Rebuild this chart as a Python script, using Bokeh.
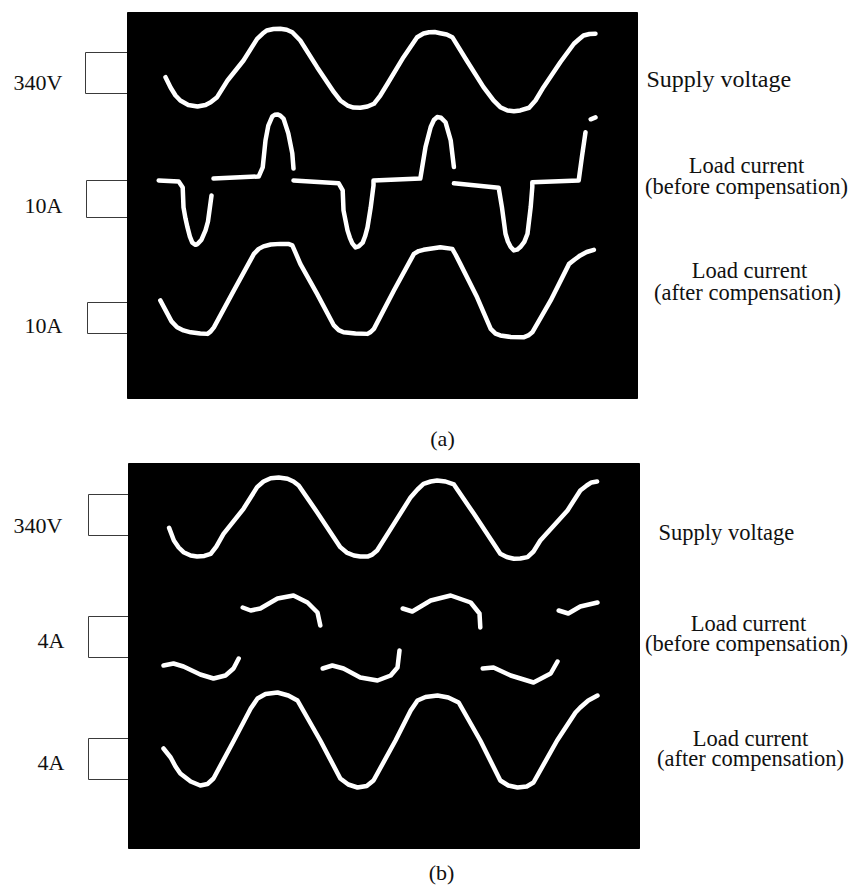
import numpy as np
from bokeh.plotting import figure
from bokeh.models import Range1d
from bokeh.core.properties import value
from bokeh.embed import file_html
from bokeh.resources import INLINE

nan = float("nan")

# ---------------- data ----------------
# time in ms, supply in V, currents in A
a_supply_t = [4.75, 5.4, 6.0, 6.6, 7.6, 8.75, 9.75, 10.4, 11.2, 12.5, 14.5, 16.2, 16.9, 17.4, 18.25, 19.1,
              19.9, 20.6, 21.6, 23.7, 25.8, 26.6, 27.5, 28.25, 29.1, 30.0, 30.8, 31.6, 32.5, 34.5, 36.2,
              37.0, 37.7, 38.4, 39.1, 39.9, 40.6, 42.4, 44.5, 45.75, 46.6, 47.5, 48.3, 49.1, 50.2, 51.0,
              52.0, 54.1, 55.8, 56.4, 57.0, 57.75, 58.5]
a_supply_v = [-78, -168, -234, -276, -314, -327, -314, -291, -248, -106, 64, 248, 293, 319, 332, 333,
              325, 304, 234, 7, -206, -276, -319, -336, -338, -327, -304, -234, -134, 92, 262,
              293, 304, 306, 296, 285, 262, 64, -163, -276, -333, -361, -367, -361, -338, -276,
              -163, 49, 206, 242, 276, 289, 291]

a_before_t = [3.9, 6.4, 6.9, 7.0, 7.25, 7.5, 7.8, 8.1, 8.5, 8.75, 9.25, 9.75, 10.06, 10.25, 10.5, nan,
              10.75, 16.4, 16.9, 17.25, 17.6, 18.1, 18.4, 18.75, 19.1, 19.5, 20.1, 20.6, 20.75, nan,
              20.75, 26.4, 26.9, 27.0, 27.5, 27.8, 28.1, 28.5, 28.9, 29.4, 29.7, 30.0, 30.4, 30.75,
              30.75, 36.6, 37.25, 37.9, 38.3, 38.7, 39.2, 39.75, 40.4, 40.8, nan,
              40.8, 46.4, 46.8, 47.25, 47.55, 47.9, 48.3, 48.7, 49.1, 49.6, 50.0, 50.4, 50.6,
              50.6, 56.4, 56.8, 57.25, nan,
              57.9, 58.5]
a_before_i = [0.3, 0, -1.6, -7.0, -10.0, -12.4, -14.9, -16.5, -17.1, -16.9, -15.7, -13.2, -10.8, -7.8, -3.8, nan,
              0.8, 1.35, 3.8, 11.1, 15.1, 17.6, 18.0, 18.1, 17.8, 17.0, 13.0, 7.6, 3.5, nan,
              0.3, -0.5, -2.4, -7.8, -13.2, -15.2, -16.7, -17.8, -17.5, -16.5, -14.8, -12.4, -7.0, -1.1,
              0.3, 0.8, 9.3, 14.7, 16.6, 17.4, 17.2, 16.0, 11.1, 3.9, nan,
              -0.5, -1.7, -6.9, -14.1, -16.2, -17.7, -18.6, -18.4, -17.7, -16.3, -14.1, -6.9, -1.5,
              -0.2, 0.3, 6.6, 13.3, nan,
              16.8, 17.3]

a_after_t = [4.1, 5.0, 5.5, 6.2, 7.0, 7.9, 9.1, 10.0, 10.4, 10.8, 13.3, 15.8, 16.4, 17.0, 17.9, 19.1,
             20.1, 20.6, 21.0, 21.6, 23.7, 25.8, 26.4, 27.0, 28.5, 30.0, 30.4, 30.8, 33.3, 35.8, 36.4,
             37.0, 39.1, 40.6, 41.0, 41.6, 43.7, 45.4, 46.0, 46.6, 47.9, 49.5, 50.1, 50.6, 52.9, 55.2,
             55.9, 56.6, 57.4, 58.3]
a_after_i = [-3.5, -7.8, -10.2, -12.1, -13.1, -13.7, -14.1, -14.2, -13.4, -12.1, -0.3, 11.4, 13.0, 13.8, 14.4, 14.6,
             14.6, 14.1, 11.8, 8.2, -1.4, -11.5, -13.0, -13.7, -14.1, -14.2, -13.6, -12.6, -0.3, 11.4, 12.3,
             12.7, 13.5, 13.0, 11.2, 8.2, -2.5, -12.6, -14.1, -14.7, -15.2, -15.3, -14.7, -13.7, -3.5, 8.2,
             9.6, 10.9, 12.0, 12.7]

b_supply_t = [5.2, 5.8, 6.4, 7.0, 7.9, 8.7, 9.6, 10.4, 11.1, 12.0, 14.5, 16.2, 17.0, 17.9, 18.9, 20.0,
              20.75, 21.4, 23.7, 26.6, 27.4, 28.3, 29.1, 30.0, 30.6, 31.2, 33.3, 35.4, 36.25, 37.0, 37.9,
              38.7, 39.75, 40.8, 43.3, 46.6, 47.4, 48.3, 49.1, 50.0, 50.75, 51.6, 55.0, 56.6, 57.4, 58.0, 58.7]
b_supply_v = [-88, -196, -255, -295, -323, -332, -327, -309, -247, -139, 74, 258, 306, 334, 340, 329,
              306, 272, 45, -252, -298, -323, -332, -332, -315, -281, -54, 173, 238, 286, 306,
              315, 306, 281, 31, -309, -336, -351, -349, -337, -289, -196, 60, 230, 272, 298, 306]

b_before_t = [4.5, 5.75, 7.0, 9.1, 10.75, 12.25, 13.25, 13.9, nan,
              14.4, 15.4, 16.6, 18.75, 20.75, 22.5, 23.75, 24.1, nan,
              24.4, 25.6, 27.0, 29.1, 31.25, 32.9, 33.75, 34.0, nan,
              34.4, 35.6, 37.9, 40.4, 42.9, 44.0, 44.1, nan,
              44.4, 45.75, 47.9, 50.75, 52.9, 53.75, nan,
              53.9, 55.1, 56.6, 58.75]
b_before_i = [-2.8, -2.6, -2.9, -3.7, -4.1, -3.8, -3.1, -2.1, nan,
              3.0, 2.7, 2.9, 3.9, 4.2, 3.5, 2.5, 1.2, nan,
              -3.1, -2.8, -3.1, -4.0, -4.3, -3.8, -3.0, -1.3, nan,
              2.9, 2.6, 3.7, 4.2, 3.5, 2.4, 1.0, nan,
              -3.1, -3.0, -3.8, -4.5, -3.6, -2.4, nan,
              2.7, 2.4, 3.1, 3.5]

b_after_t = [4.5, 5.4, 6.0, 6.6, 7.9, 9.1, 10.0, 10.75, 13.3, 15.4, 16.25, 17.25, 18.75, 20.1, 21.25,
             24.1, 26.6, 27.6, 28.75, 29.9, 30.75, 33.5, 35.4, 36.25, 37.25, 38.75, 40.1, 41.4, 44.1,
             46.6, 47.6, 48.75, 49.9, 50.75, 53.7, 56.0, 56.6, 57.6, 58.75]
b_after_i = [-0.8, -1.7, -2.6, -3.3, -4.1, -4.5, -4.35, -3.8, 0, 3.2, 4.2, 4.65, 4.8, 4.5, 4.0,
             0, -3.8, -4.4, -4.7, -4.55, -4.0, 0, 3.0, 4.0, 4.35, 4.5, 4.3, 3.8, 0,
             -4.0, -4.5, -4.7, -4.6, -4.2, 0, 2.8, 3.3, 4.0, 4.5]

scale_labels = ["340V", "10A", "10A", "340V", "4A", "4A"]
trace_names = ["Supply voltage", "Load current", "(before compensation)",
               "Load current", "(after compensation)"]
captions = ["(a)", "(b)"]

# ---------------- layout (page pixels; bokeh page has no body margin) ----------------
W, H = 851, 888
OX, OY = 0, 0
T0_PX, PX_PER_MS = 127, 8.0
FONT = value("Liberation Serif")
INK = "#111111"

p = figure(width=W, height=H, output_backend="svg", toolbar_location=None,
           x_range=Range1d(OX, OX + W), y_range=Range1d(OY + H, OY),
           x_axis_type=None, y_axis_type=None, min_border=0)
p.outline_line_color = None
p.grid.visible = False
p.background_fill_color = "white"
p.border_fill_color = "white"

p.extra_x_ranges = {"t": Range1d((OX - T0_PX) / PX_PER_MS, (OX + W - T0_PX) / PX_PER_MS)}

# channel: (centre page y, units per pixel)
channels = {
    "a_v": (67.5, 8.5), "a_i1": (181.0, 0.27), "a_i2": (289.0, 0.32),
    "b_v": (517.0, 8.5), "b_i1": (637.0, 0.10), "b_i2": (740.0, 0.10),
}
for name, (c, upp) in channels.items():
    p.extra_y_ranges[name] = Range1d(-(OY + H - c) * upp, (c - OY) * upp)

# scale boxes (drawn before the screens)
p.quad(left=[85, 86, 87, 88, 88, 88], right=[140] * 6,
       top=[52, 180, 302, 494, 616, 738], bottom=[93, 217, 333, 535, 657, 779],
       fill_color=None, line_color="#3a3a3a", line_width=1)

# screens
p.quad(left=[127, 128], right=[637, 639], top=[12, 463], bottom=[398, 848],
       fill_color="black", line_color="black")

traces = [
    (a_supply_t, a_supply_v, "a_v"), (a_before_t, a_before_i, "a_i1"), (a_after_t, a_after_i, "a_i2"),
    (b_supply_t, b_supply_v, "b_v"), (b_before_t, b_before_i, "b_i1"), (b_after_t, b_after_i, "b_i2"),
]
for t, v, ch in traces:
    p.line(x=t, y=v, x_range_name="t", y_range_name=ch, line_color="white",
           line_width=4.5, line_cap="round", line_join="round")

# scale labels (left)
p.text(x=[62, 62, 62, 62, 64, 64], y=[82, 205, 325, 525, 640, 762], text=scale_labels,
       text_font=FONT, text_font_size=value("22px"), text_align="right",
       text_baseline="alphabetic", text_color=INK)

# trace names (right)
p.text(x=[646], y=[78], text=[trace_names[0]], text_font=FONT, text_font_size=value("24px"),
       text_align="left", text_baseline="alphabetic", text_color=INK)
p.text(x=[658], y=[532], text=[trace_names[0]], text_font=FONT, text_font_size=value("22.5px"),
       text_align="left", text_baseline="alphabetic", text_color=INK)
p.text(x=[746, 746, 749, 747, 748, 746, 750, 750],
       y=[165, 186, 270, 292, 623, 643, 738, 758],
       text=trace_names[1:] * 2, text_font=FONT, text_font_size=value("22.5px"),
       text_align="center", text_baseline="alphabetic", text_color=INK)

# captions
p.text(x=[442, 441], y=[438, 872], text=captions, text_font=FONT, text_font_size=value("22px"),
       text_align="center", text_baseline="alphabetic", text_color=INK)

open("out.html", "w").write(file_html(p, INLINE))
